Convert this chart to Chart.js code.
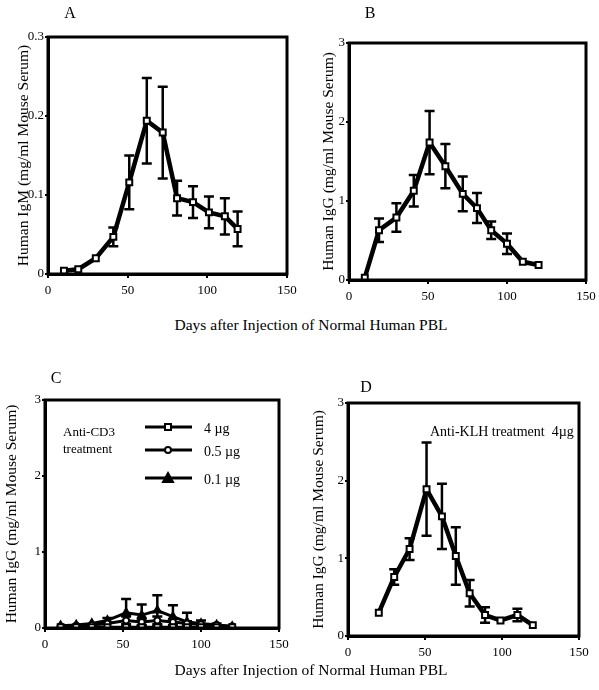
<!DOCTYPE html>
<html>
<head>
<meta charset="utf-8">
<script src="https://cdn.jsdelivr.net/npm/chart.js@4.4.1/dist/chart.umd.min.js"></script>
<style>
    body { margin: 0; background: #fff; width: 599px; height: 690px; position: relative; overflow: hidden;
           font-family: "Liberation Serif", "Times New Roman", serif; color: #000; }
    canvas { position: absolute; }
    .txt { position: absolute; line-height: 1; white-space: nowrap; }
    .letter { font-size: 16px; transform: translate(-50%, -50%); }
    .xtitle { font-size: 15.5px; transform: translate(-50%, -50%); }
    .note { font-size: 13px; transform: translateY(-50%); }
</style>
</head>
<body>
<canvas id="chartA" width="300" height="315" style="left:0;top:0"></canvas>
<canvas id="chartB" width="299" height="315" style="left:300px;top:0"></canvas>
<canvas id="chartC" width="300" height="335" style="left:0;top:355px"></canvas>
<canvas id="chartD" width="299" height="335" style="left:300px;top:355px"></canvas>

<div class="txt letter" style="left:70px;top:13px">A</div>
<div class="txt letter" style="left:370px;top:13px">B</div>
<div class="txt letter" style="left:56px;top:378px">C</div>
<div class="txt letter" style="left:366px;top:387px">D</div>

<div class="txt xtitle" style="left:311px;top:325px">Days after Injection of Normal Human PBL</div>
<div class="txt xtitle" style="left:311px;top:670px">Days after Injection of Normal Human PBL</div>

<div class="txt note" style="left:63px;top:431px">Anti-CD3</div>
<div class="txt note" style="left:63px;top:448px">treatment</div>
<div class="txt note" style="left:430px;top:432px;font-size:14px">Anti-KLH treatment&nbsp;&nbsp;4µg</div>

<script>
// Valeurs (jours après injection, mg/ml)
const daysA = [10, 19, 30, 41, 51, 62, 72, 81, 91, 101, 111, 119];
const igmA = [0.004, 0.006, 0.02, 0.047, 0.116, 0.194, 0.179, 0.096, 0.091, 0.078, 0.073, 0.057];
const errA = [0, 0, 0, 0.012, 0.034, 0.054, 0.058, 0.022, 0.02, 0.02, 0.023, 0.022];

const daysB = [10, 19, 30, 41, 51, 61, 72, 81, 90, 100, 110, 120];
const iggB = [0.03, 0.63, 0.79, 1.13, 1.74, 1.44, 1.09, 0.91, 0.63, 0.46, 0.23, 0.19];
const errB = [0, 0.15, 0.18, 0.2, 0.4, 0.28, 0.22, 0.19, 0.11, 0.13, 0, 0];

const daysC = [10, 20, 30, 40, 52, 62, 72, 82, 91, 100, 110, 120];
const iggC4 = [0.01, 0.01, 0.01, 0.01, 0.01, 0.01, 0.01, 0.01, 0.01, 0.01, 0.01, 0.01];
const errC4 = [0, 0, 0, 0, 0.01, 0.01, 0.01, 0.01, 0.01, 0, 0, 0];
const iggC05 = [0.02, 0.03, 0.04, 0.06, 0.1, 0.08, 0.1, 0.08, 0.06, 0.05, 0.04, 0.02];
const errC05 = [0, 0, 0, 0, 0.05, 0.04, 0.05, 0.04, 0.03, 0, 0, 0];
const iggC01 = [0.03, 0.04, 0.06, 0.1, 0.2, 0.17, 0.23, 0.15, 0.08, 0.06, 0.04, 0.02];
const errC01 = [0, 0, 0, 0.03, 0.18, 0.14, 0.2, 0.15, 0.12, 0.04, 0.02, 0];
const doseLabels = ['4 µg', '0.5 µg', '0.1 µg'];

const daysD = [20, 30, 40, 51, 61, 70, 79, 89, 99, 110, 120];
const iggD = [0.3, 0.76, 1.12, 1.89, 1.54, 1.03, 0.55, 0.27, 0.2, 0.27, 0.14];
const errD = [0, 0.1, 0.14, 0.6, 0.42, 0.37, 0.17, 0.1, 0, 0.08, 0];

const xTicks = [0, 50, 100, 150];

const BLACK = '#000';
const SERIF = '"Liberation Serif", "Times New Roman", serif';

function toPoints(days, values) {
    return days.map((d, i) => ({ x: d, y: values[i] }));
}

/**
 * Dessine un marqueur (carré ouvert, cercle ouvert, triangle plein)
 */
function drawMarker(ctx, style, x, y) {
    ctx.save();
    ctx.lineWidth = 2;
    ctx.strokeStyle = BLACK;
    ctx.fillStyle = '#fff';
    ctx.beginPath();
    if (style === 'rect') {
        ctx.rect(x - 3, y - 3, 6, 6);
    } else if (style === 'circle') {
        ctx.arc(x, y, 3, 0, Math.PI * 2);
    } else {
        ctx.fillStyle = BLACK;
        ctx.moveTo(x, y - 5);
        ctx.lineTo(x + 5, y + 4);
        ctx.lineTo(x - 5, y + 4);
        ctx.closePath();
    }
    ctx.fill();
    ctx.stroke();
    ctx.restore();
}

// Barres d'erreur en T, placées via l'échelle y
const errorBarsPlugin = {
    id: 'errorBars',
    beforeDatasetsDraw(chart) {
        const { ctx } = chart;
        const yScale = chart.scales.y;
        ctx.save();
        ctx.strokeStyle = BLACK;
        ctx.lineWidth = 2.5;
        chart.data.datasets.forEach((ds, i) => {
            if (!ds.errors) return;
            const meta = chart.getDatasetMeta(i);
            meta.data.forEach((pt, j) => {
                const e = ds.errors[j];
                if (!e) return;
                const v = ds.data[j].y;
                const top = yScale.getPixelForValue(v + e);
                const bottom = yScale.getPixelForValue(Math.max(v - e, 0));
                ctx.beginPath();
                ctx.moveTo(pt.x, top);
                ctx.lineTo(pt.x, bottom);
                ctx.moveTo(pt.x - 5, top);
                ctx.lineTo(pt.x + 5, top);
                ctx.moveTo(pt.x - 5, bottom);
                ctx.lineTo(pt.x + 5, bottom);
                ctx.stroke();
            });
        });
        ctx.restore();
    }
};

// Cadre épais autour de la zone de tracé
const framePlugin = {
    id: 'frame',
    afterDraw(chart) {
        const { ctx, chartArea: a } = chart;
        ctx.save();
        ctx.strokeStyle = BLACK;
        ctx.lineWidth = 3;
        ctx.strokeRect(a.left, a.top, a.right - a.left, a.bottom - a.top);
        ctx.restore();
    }
};

// Légende des doses du panneau C
const doseLegendPlugin = {
    id: 'doseLegend',
    afterDraw(chart) {
        const { ctx, chartArea: a } = chart;
        const styles = chart.data.datasets.map(ds => ds.pointStyle);
        const rows = [27, 50, 78];
        ctx.save();
        ctx.font = '14px ' + SERIF;
        ctx.fillStyle = BLACK;
        ctx.textBaseline = 'middle';
        rows.forEach((dy, i) => {
            const y = a.top + dy;
            ctx.strokeStyle = BLACK;
            ctx.lineWidth = 3;
            ctx.beginPath();
            ctx.moveTo(a.left + 100, y);
            ctx.lineTo(a.left + 147, y);
            ctx.stroke();
            drawMarker(ctx, styles[i], a.left + 123, y);
            ctx.fillText(doseLabels[i], a.left + 159, y + 2);
        });
        ctx.restore();
    }
};

function zeroPadding(scale) {
    scale.paddingTop = 0;
    scale.paddingBottom = 0;
    scale.paddingLeft = 0;
    scale.paddingRight = 0;
}

function makeDataset(days, values, errors, pointStyle, width) {
    return {
        data: toPoints(days, values),
        errors: errors,
        borderColor: BLACK,
        borderWidth: width,
        tension: 0,
        pointStyle: pointStyle,
        pointRadius: pointStyle === 'circle' ? 3 : 4.2,
        pointBackgroundColor: pointStyle === 'triangle' ? BLACK : '#fff',
        pointBorderColor: BLACK,
        pointBorderWidth: 2
    };
}

/**
 * Construit un panneau avec les échelles fixées
 */
function buildPanel(canvasId, datasets, opts) {
    const tickFont = { family: SERIF, size: 13 };
    return new Chart(document.getElementById(canvasId), {
        type: 'line',
        data: { datasets },
        options: {
            responsive: false,
            animation: false,
            events: [],
            layout: { padding: { top: opts.padTop, right: opts.padRight, left: 0, bottom: 0 } },
            plugins: { legend: { display: false }, tooltip: { enabled: false } },
            scales: {
                x: {
                    type: 'linear',
                    min: 0,
                    max: 150,
                    afterBuildTicks: s => { s.ticks = xTicks.map(v => ({ value: v })); },
                    ticks: { font: tickFont, color: BLACK, padding: 5, maxRotation: 0, autoSkip: false },
                    grid: { drawOnChartArea: false, drawTicks: true, tickLength: 4, color: BLACK, lineWidth: 2 },
                    border: { display: true, color: BLACK, width: 3 },
                    afterFit: s => { s.height = opts.xHeight; zeroPadding(s); }
                },
                y: {
                    min: 0,
                    max: opts.yMax,
                    ticks: {
                        stepSize: opts.yStep,
                        font: tickFont,
                        color: BLACK,
                        padding: 1,
                        callback: v => (opts.yStep < 1 && v !== 0 ? v.toFixed(1) : String(Math.round(v)))
                    },
                    grid: { drawOnChartArea: false, drawTicks: true, tickLength: 3, color: BLACK, lineWidth: 2 },
                    border: { display: true, color: BLACK, width: 3 },
                    title: {
                        display: true,
                        text: opts.yTitle,
                        color: BLACK,
                        font: { family: SERIF, size: 15.5 },
                        padding: { top: opts.titlePad, bottom: 0 }
                    },
                    afterFit: s => { s.width = opts.yWidth; zeroPadding(s); }
                }
            }
        },
        plugins: [errorBarsPlugin, framePlugin].concat(opts.extraPlugins || [])
    });
}

buildPanel('chartA', [makeDataset(daysA, igmA, errA, 'rect', 4.5)], {
    yMax: 0.3, yStep: 0.1, yTitle: 'Human IgM (mg/ml Mouse Serum)',
    padTop: 37, padRight: 13, yWidth: 48, xHeight: 41, titlePad: 15
});

buildPanel('chartB', [makeDataset(daysB, iggB, errB, 'rect', 4.5)], {
    yMax: 3, yStep: 1, yTitle: 'Human IgG (mg/ml Mouse Serum)',
    padTop: 43, padRight: 13, yWidth: 49, xHeight: 35, titlePad: 20
});

buildPanel('chartC', [
    makeDataset(daysC, iggC4, errC4, 'rect', 3),
    makeDataset(daysC, iggC05, errC05, 'circle', 3),
    makeDataset(daysC, iggC01, errC01, 'triangle', 3)
], {
    yMax: 3, yStep: 1, yTitle: 'Human IgG (mg/ml Mouse Serum)',
    padTop: 45, padRight: 21, yWidth: 45, xHeight: 62, titlePad: 3,
    extraPlugins: [doseLegendPlugin]
});

buildPanel('chartD', [makeDataset(daysD, iggD, errD, 'rect', 4.5)], {
    yMax: 3, yStep: 1, yTitle: 'Human IgG (mg/ml Mouse Serum)',
    padTop: 48, padRight: 20, yWidth: 48, xHeight: 54, titlePad: 10
});
</script>
</body>
</html>
